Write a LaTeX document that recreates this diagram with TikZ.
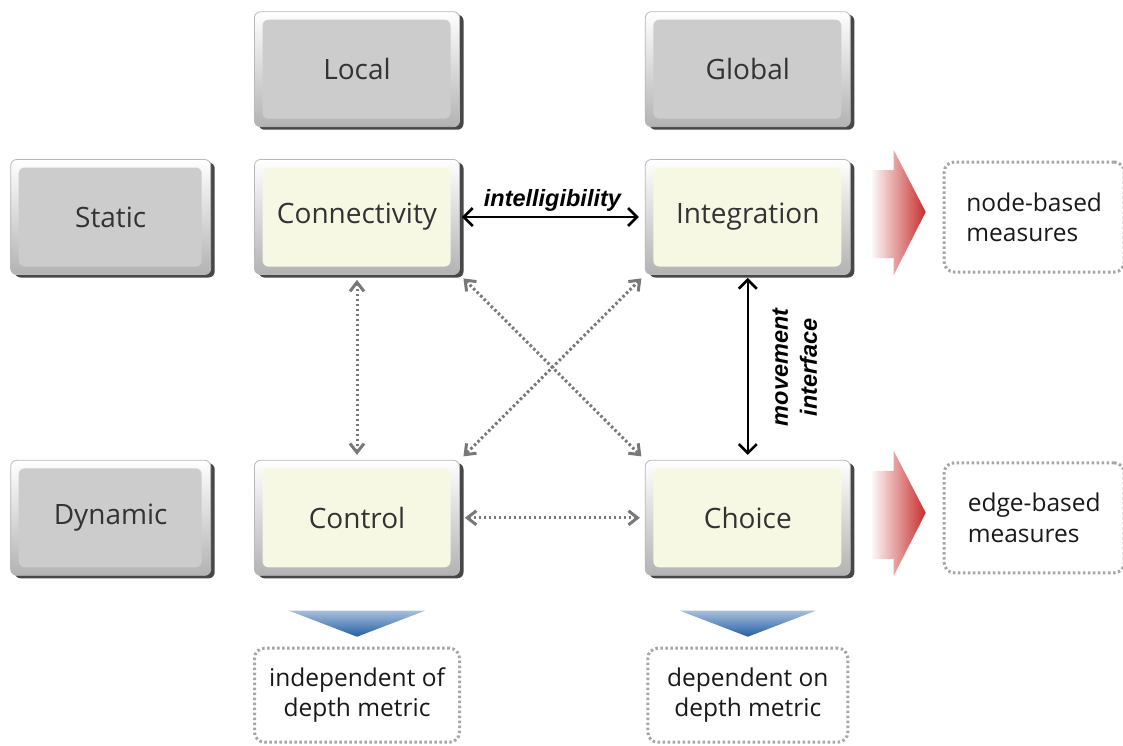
\documentclass[tikz,border=0pt]{standalone}
\usepackage{fontspec}
\setmainfont{Open Sans}
\newfontfamily\labelfont{Liberation Sans}
\usetikzlibrary{arrows.meta, positioning, shadows, calc}

\definecolor{facegray}{RGB}{204,204,204}
\definecolor{facegreen}{RGB}{246,248,228}
\definecolor{measred}{RGB}{200,45,45}
\definecolor{depthblue}{RGB}{35,95,165}
\definecolor{linkgray}{RGB}{120,120,120}

\begin{document}
\begin{tikzpicture}[x=1pt, y=-1pt,
    node distance=32pt and 43pt,
    >={Straight Barb[length=9pt,width=18pt]},
    bevel/.style={rectangle, rounded corners=6pt,
        minimum width=205pt, minimum height=115pt,
        top color=white, bottom color=gray!60, draw=gray!55, line width=0.8pt,
        drop shadow={shadow xshift=4pt, shadow yshift=-3pt, fill=black!80, opacity=.9},
        font=\fontsize{28}{32}\selectfont, text=black!80,
        path picture={\fill[#1] ([shift={(8pt,8pt)}]path picture bounding box.south west)
            rectangle ([shift={(-9pt,-8pt)}]path picture bounding box.north east);}},
    dotbox/.style={draw=gray!70, line width=3pt, dash pattern=on 2.5pt off 2.5pt,
        rounded corners=10pt, font=\fontsize{24.5}{30}\selectfont, text=black!90},
    biarrow/.style={<->, line width=2.6pt, black},
    link/.style={{Straight Barb[length=9pt,width=14pt]}-{Straight Barb[length=9pt,width=14pt]},
        line width=3pt, linkgray, dash pattern=on 2.5pt off 2.5pt,
        shorten <=5pt, shorten >=5pt},
    labeltext/.style={font=\labelfont\bfseries\itshape\fontsize{23.5}{29}\selectfont}]

    \useasboundingbox (0,0) rectangle (1123,745);

    % the 2 x 2 grid of measures
    \node[bevel=facegreen] (conn)   at (357,217)            {Connectivity};
    \node[bevel=facegreen] (integ)  [right=185pt of conn]   {Integration};
    \node[bevel=facegreen] (ctrl)   [below=185pt of conn]   {Control};
    \node[bevel=facegreen] (choice) [right=185pt of ctrl]   {Choice};

    % row and column headers
    \node[bevel=facegray] (local)  [above=of conn]  {Local};
    \node[bevel=facegray] (global) [above=of integ] {Global};
    \node[bevel=facegray, minimum width=200pt] (static)  [left=of conn] {Static};
    \node[bevel=facegray, minimum width=200pt] (dynamic) [left=of ctrl] {Dynamic};

    % notes
    \node[dotbox, minimum width=180pt, minimum height=110pt, align=left]
        (nodemeas) [right=92pt of integ] {node-based\\measures};
    \node[dotbox, minimum width=180pt, minimum height=110pt, align=left]
        (edgemeas) [right=92pt of choice] {edge-based\\measures};
    \node[dotbox, minimum width=205pt, minimum height=94pt, align=center]
        (indep) [below=71pt of ctrl] {independent of\\depth metric};
    \node[dotbox, minimum width=200pt, minimum height=94pt, align=center]
        (dep) [below=71pt of choice] {dependent on\\depth metric};

    % relations
    \draw[biarrow, shorten <=2pt, shorten >=6pt] (conn) --
        node[above=1pt, labeltext] {intelligibility} (integ);
    \draw[biarrow, shorten <=3pt, shorten >=5pt] (integ) -- (choice);
    \node[labeltext, rotate=90, align=center, inner sep=0pt] (mvlabel)
        at ($(integ.south)!0.5!(choice.north)+(47,0)$) {movement\\interface};

    \draw[link] (conn) -- (ctrl);
    \draw[link] (ctrl) -- (choice);
    \draw[link] (conn.south east) -- (choice.north west);
    \draw[link] (integ.south west) -- (ctrl.north east);

    % big arrows
    \foreach \n in {integ, choice} {
        \begin{scope}[shift={(\n.east)}]
            \shade[left color=measred!5, middle color=measred!85, right color=measred]
                (22,-47) -- (43,-47) -- (43,-67) -- (75,-5) -- (43,58) -- (43,41) -- (22,41) -- cycle;
        \end{scope}
    }
    \foreach \n in {ctrl, choice} {
        \begin{scope}[shift={(\n.south)}]
            \shade[top color=depthblue!40, bottom color=depthblue]
                (-68,35) -- (68,35) -- (0,61) -- cycle;
        \end{scope}
    }
\end{tikzpicture}
\end{document}
